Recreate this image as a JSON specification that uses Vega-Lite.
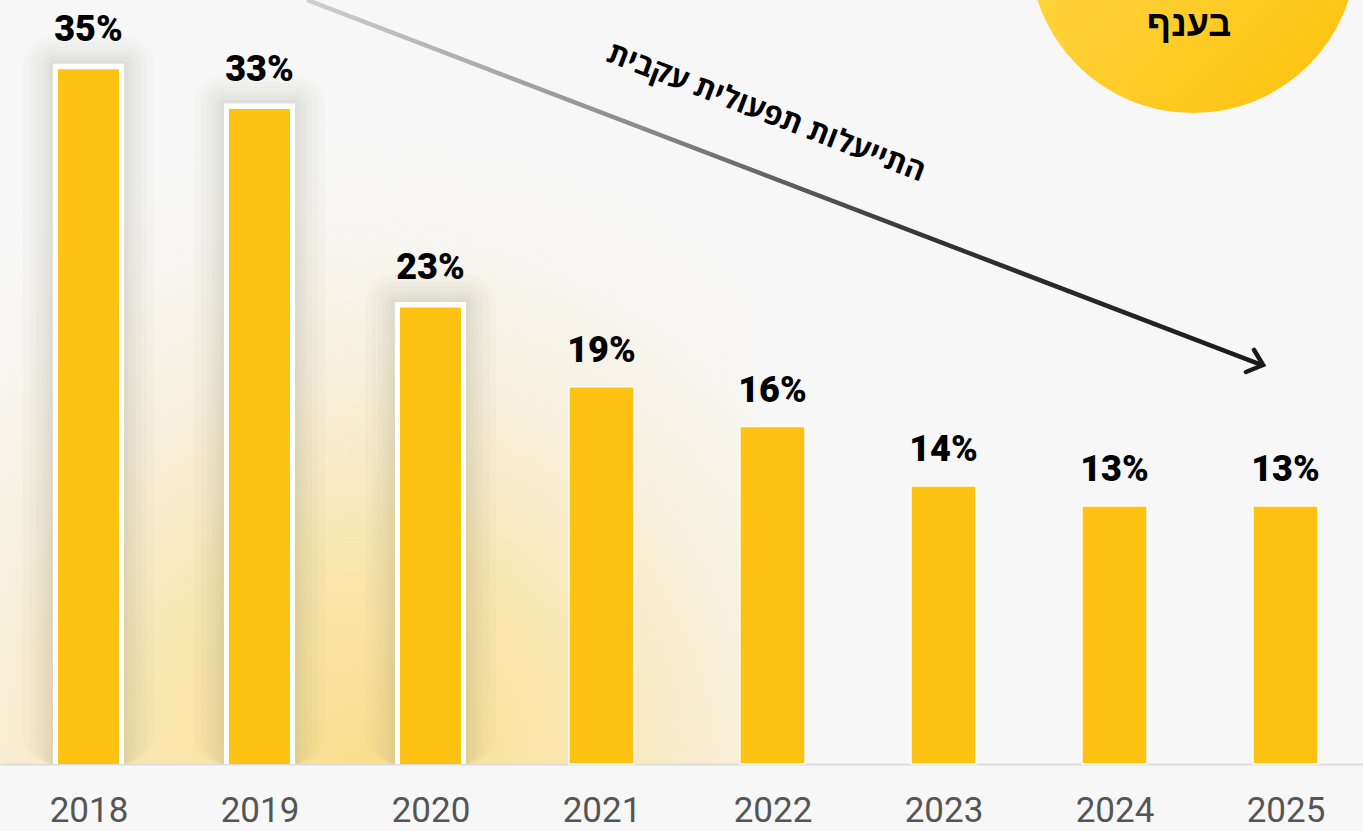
{
  "$schema": "https://vega.github.io/schema/vega-lite/v6.json",
  "width": 1363,
  "height": 764,
  "autosize": {"type": "none"},
  "padding": {"left": 0, "right": 0, "top": 0, "bottom": 67},
  "background": "#f7f7f7",
  "config": {"view": {"stroke": null}},
  "datasets": {
    "bars": [
      {"year": 2018, "value": 35, "label": "35%", "hl": true},
      {"year": 2019, "value": 33, "label": "33%", "hl": true},
      {"year": 2020, "value": 23, "label": "23%", "hl": true},
      {"year": 2021, "value": 19, "label": "19%", "hl": false},
      {"year": 2022, "value": 17, "label": "16%", "hl": false},
      {"year": 2023, "value": 14, "label": "14%", "hl": false},
      {"year": 2024, "value": 13, "label": "13%", "hl": false},
      {"year": 2025, "value": 13, "label": "13%", "hl": false}
    ],
    "warm": [
      {"year": 2017.2486, "year2": 2021.927, "value": 0, "value2": 65.5}
    ],
    "arrow": [
      {"year": 2019.278, "value": 38.49, "o": 0},
      {"year": 2024.863, "value": 20.10, "o": 1}
    ],
    "head": [
      {"year": 2024.816, "value": 20.86, "o": 0},
      {"year": 2024.869, "value": 20.10, "o": 1},
      {"year": 2024.769, "value": 19.75, "o": 2}
    ],
    "arrowText": [
      {"year": 2021.962, "value": 32.8, "t": "התייעלות תפעולית עקבית"}
    ],
    "badge": [
      {"year": 2024.459, "value": 41.03}
    ],
    "badgeText": [
      {"year": 2024.436, "value": 36.68, "t": "בענף"}
    ]
  },
  "encoding": {
    "x": {
      "field": "year",
      "type": "quantitative",
      "scale": {"domain": [2017.4825, 2025.4533], "nice": false, "zero": false, "padding": 0},
      "axis": {
        "values": [2018, 2019, 2020, 2021, 2022, 2023, 2024, 2025],
        "format": "d",
        "title": null,
        "grid": false,
        "ticks": false,
        "tickSize": 0,
        "labelFont": "Roboto",
        "labelFontSize": 35,
        "labelColor": "#555555",
        "labelBaseline": "alphabetic",
        "labelPadding": 57,
        "labelFlush": false,
        "labelOverlap": false,
        "domainColor": "#dcdcdc",
        "domainWidth": 2
      }
    },
    "y": {
      "field": "value",
      "type": "quantitative",
      "scale": {"domain": [0, 38.49], "nice": false, "zero": true, "padding": 0},
      "axis": null
    }
  },
  "layer": [
    {
      "data": {"name": "warm"},
      "mark": {"type": "rect", "clip": true, "fill": {"gradient": "radial", "x1": 0.5, "y1": 1, "r1": 0, "x2": 0.5, "y2": 1, "r2": 0.5, "stops": [{"offset": 0, "color": "rgba(250,222,140,1)"}, {"offset": 0.35, "color": "rgba(249,226,160,0.8)"}, {"offset": 0.7, "color": "rgba(248,234,200,0.35)"}, {"offset": 1, "color": "rgba(247,247,247,0)"}]}},
      "encoding": {"x2": {"field": "year2"}, "y2": {"field": "value2"}}
    },
    {
      "data": {"name": "bars"},
      "transform": [{"filter": "datum.hl"}],
      "mark": {"type": "bar", "width": 131, "yOffset": -33, "cornerRadius": 30, "opacity": 0.035, "fill": "#8c826e"},
      "encoding": {"y2": {"datum": 0}}
    },
    {
      "data": {"name": "bars"},
      "transform": [{"filter": "datum.hl"}],
      "mark": {"type": "bar", "width": 117, "yOffset": -27, "cornerRadius": 24, "opacity": 0.035, "fill": "#8c826e"},
      "encoding": {"y2": {"datum": 0}}
    },
    {
      "data": {"name": "bars"},
      "transform": [{"filter": "datum.hl"}],
      "mark": {"type": "bar", "width": 105, "yOffset": -22, "cornerRadius": 18, "opacity": 0.035, "fill": "#8c826e"},
      "encoding": {"y2": {"datum": 0}}
    },
    {
      "data": {"name": "bars"},
      "transform": [{"filter": "datum.hl"}],
      "mark": {"type": "bar", "width": 95, "yOffset": -17, "cornerRadius": 13, "opacity": 0.035, "fill": "#8c826e"},
      "encoding": {"y2": {"datum": 0}}
    },
    {
      "data": {"name": "bars"},
      "transform": [{"filter": "datum.hl"}],
      "mark": {"type": "bar", "width": 87, "yOffset": -13, "cornerRadius": 9, "opacity": 0.035, "fill": "#8c826e"},
      "encoding": {"y2": {"datum": 0}}
    },
    {
      "data": {"name": "bars"},
      "transform": [{"filter": "datum.hl"}],
      "mark": {"type": "bar", "width": 79, "yOffset": -9, "cornerRadius": 5, "opacity": 0.04, "fill": "#8c826e"},
      "encoding": {"y2": {"datum": 0}}
    },
    {
      "data": {"name": "bars"},
      "transform": [{"filter": "datum.hl"}],
      "mark": {"type": "bar", "width": 71, "yOffset": -5.5, "fill": "#ffffff"},
      "encoding": {"y2": {"datum": 0}}
    },
    {
      "data": {"name": "bars"},
      "transform": [{"filter": "datum.hl"}],
      "mark": {"type": "bar", "width": 61, "fill": "#FEC213"},
      "encoding": {"y2": {"datum": 0}}
    },
    {
      "data": {"name": "bars"},
      "transform": [{"filter": "!datum.hl"}],
      "mark": {"type": "bar", "width": 65, "fill": "#FEC213", "stroke": "#ffffff", "strokeWidth": 1.5, "strokeOpacity": 0.9},
      "encoding": {"y2": {"datum": 0}}
    },
    {
      "data": {"name": "bars"},
      "transform": [{"filter": "datum.hl"}],
      "mark": {"type": "text", "font": "Roboto", "fontWeight": 900, "fontSize": 36, "color": "#000000", "baseline": "alphabetic", "dy": -28},
      "encoding": {"text": {"field": "label"}}
    },
    {
      "data": {"name": "bars"},
      "transform": [{"filter": "!datum.hl"}],
      "mark": {"type": "text", "font": "Roboto", "fontWeight": 900, "fontSize": 36, "color": "#000000", "baseline": "alphabetic", "dy": -25},
      "encoding": {"text": {"field": "label"}}
    },
    {
      "data": {"name": "arrow"},
      "mark": {"type": "line", "strokeWidth": 4.5, "clip": false, "stroke": {"gradient": "linear", "x1": 0, "y1": 0, "x2": 1, "y2": 0, "stops": [{"offset": 0, "color": "#cfcfcf"}, {"offset": 0.35, "color": "#8a8a8a"}, {"offset": 0.65, "color": "#333333"}, {"offset": 1, "color": "#1a1a1a"}]}},
      "encoding": {"order": {"field": "o"}}
    },
    {
      "data": {"name": "head"},
      "mark": {"type": "line", "strokeWidth": 4.5, "color": "#1a1a1a", "strokeCap": "round", "strokeJoin": "miter"},
      "encoding": {"order": {"field": "o"}}
    },
    {
      "data": {"name": "arrowText"},
      "mark": {"type": "text", "font": "Open Sans", "fontWeight": "bold", "fontSize": 30, "color": "#000000", "angle": 21, "align": "center", "baseline": "middle"},
      "encoding": {"text": {"field": "t"}}
    },
    {
      "data": {"name": "badge"},
      "mark": {"type": "point", "shape": "circle", "filled": true, "size": 106929, "opacity": 1, "clip": false, "fill": {"gradient": "linear", "x1": 0, "y1": 0, "x2": 1, "y2": 1, "stops": [{"offset": 0, "color": "#FFDC55"}, {"offset": 1, "color": "#FFC10A"}]}}
    },
    {
      "data": {"name": "badgeText"},
      "mark": {"type": "text", "font": "Liberation Sans", "fontWeight": "bold", "fontSize": 36, "color": "#000000", "align": "center", "baseline": "alphabetic"},
      "encoding": {"text": {"field": "t"}}
    }
  ]
}
